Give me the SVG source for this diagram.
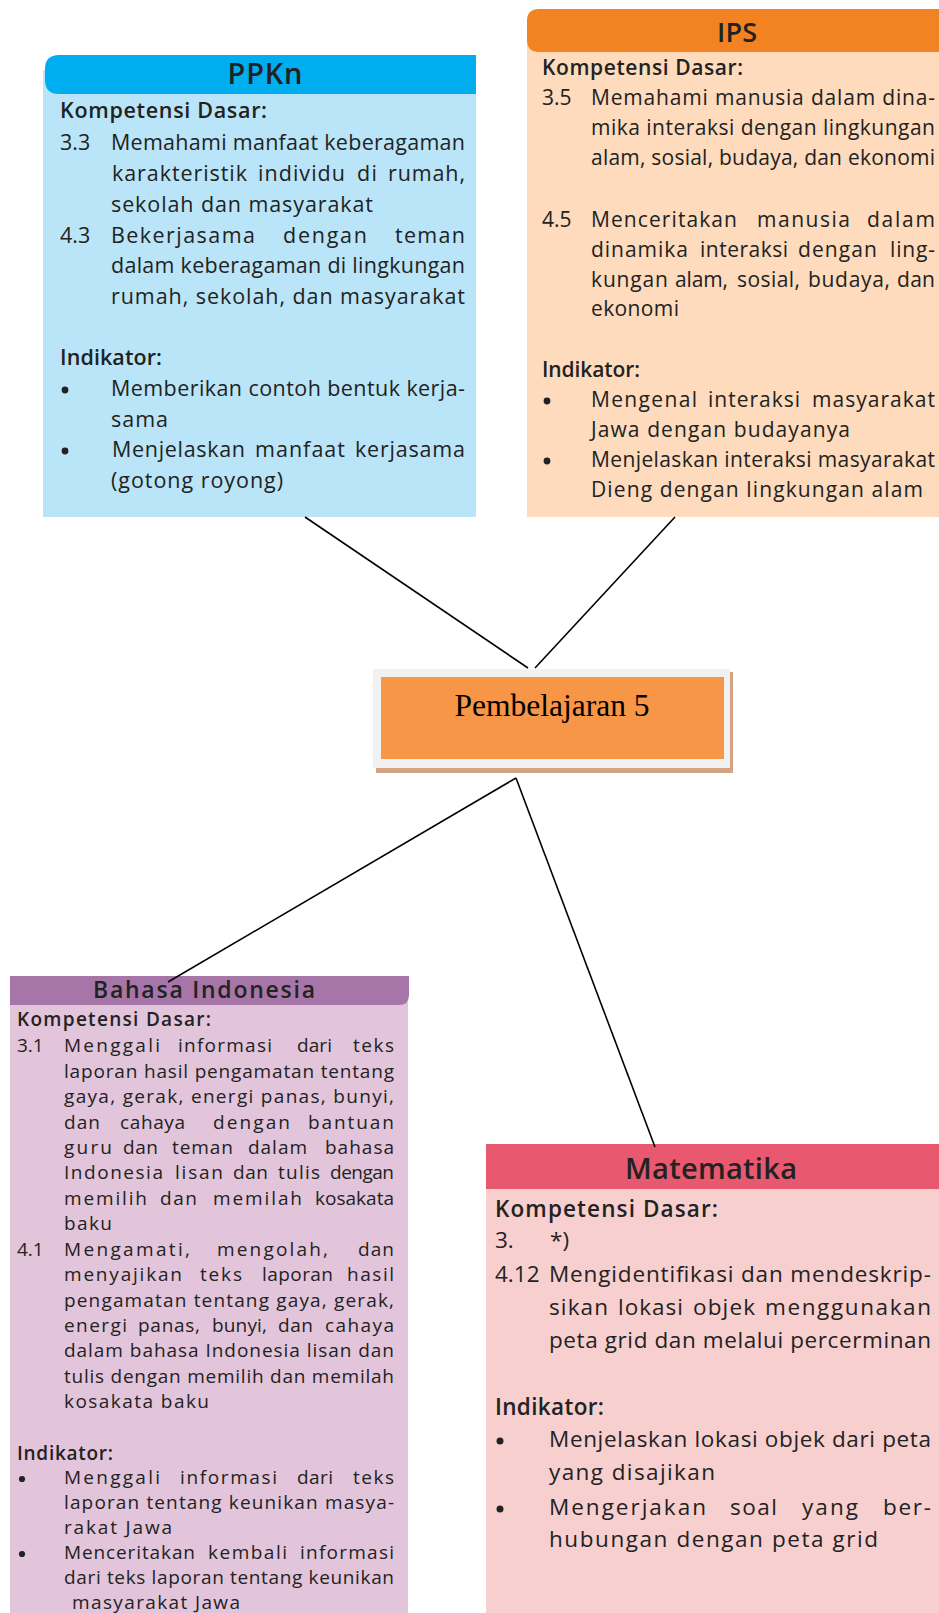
<svg xmlns="http://www.w3.org/2000/svg" width="939" height="1613" viewBox="0 0 939 1613">
<style>
text{font-family:"Open Sans","Noto Sans",sans-serif;fill:#222;font-weight:500}
.b{font-weight:600}
.s21{font-size:21.5px}
.s20{font-size:21px}
.s22{font-size:22.5px}
.s18{font-size:19px}
.title{font-weight:600;text-anchor:middle}
.dot{fill:#222}
.conn line{stroke:#000;stroke-width:1.6}
</style>
<rect width="939" height="1613" fill="#fff"/>

<g id="ppkn">
<rect x="43" y="70" width="433" height="447" fill="#BAE5F8"/>
<path d="M59 55 H476 V94 H59 Q45 94 45 80 V69 Q45 55 59 55 Z" fill="#00AEEF"/>
<text class="title" x="265" y="84" font-size="29" textLength="75">PPKn</text>
<g class="s21">
<text class="b" x="60" y="118" textLength="207">Kompetensi Dasar:</text>
<text x="60" y="150">3.3</text>
<text x="111" y="150" textLength="354">Memahami manfaat keberagaman</text>
<text x="112" y="181" textLength="135">karakteristik</text>
<text x="258" y="181" textLength="87">individu</text>
<text x="357" y="181" textLength="20">di</text>
<text x="388" y="181" textLength="77">rumah,</text>
<text x="111" y="212" textLength="262">sekolah dan masyarakat</text>
<text x="60" y="243">4.3</text>
<text x="111" y="243" textLength="144">Bekerjasama</text>
<text x="283" y="243" textLength="84">dengan</text>
<text x="395" y="243" textLength="70">teman</text>
<text x="111" y="273" textLength="354">dalam keberagaman di lingkungan</text>
<text x="111" y="304" textLength="354">rumah, sekolah, dan masyarakat</text>
<text class="b" x="60" y="365" textLength="102">Indikator:</text>
<circle class="dot" cx="65" cy="390" r="3.4"/>
<text x="111" y="396" textLength="354">Memberikan contoh bentuk kerja-</text>
<text x="111" y="427" textLength="57">sama</text>
<circle class="dot" cx="65" cy="451" r="3.4"/>
<text x="112" y="457" textLength="133">Menjelaskan</text>
<text x="255" y="457" textLength="90">manfaat</text>
<text x="355" y="457" textLength="110">kerjasama</text>
<text x="111" y="488" textLength="172">(gotong royong)</text>
</g>
</g>

<g id="ips">
<rect x="527" y="30" width="412" height="487" fill="#FDDBBC"/>
<path d="M539 9 H939 V52 H539 Q527 52 527 40 V21 Q527 9 539 9 Z" fill="#F28222"/>
<text class="title" x="737" y="42" font-size="27" textLength="40">IPS</text>
<g class="s20">
<text class="b" x="542" y="75" textLength="201">Kompetensi Dasar:</text>
<text x="542" y="105">3.5</text>
<text x="591" y="105" textLength="344">Memahami manusia dalam dina-</text>
<text x="591" y="135" textLength="344">mika interaksi dengan lingkungan</text>
<text x="591" y="165" textLength="344">alam, sosial, budaya, dan ekonomi</text>
<text x="542" y="227">4.5</text>
<text x="591" y="227" textLength="146">Menceritakan</text>
<text x="757" y="227" textLength="93">manusia</text>
<text x="867" y="227" textLength="68">dalam</text>
<text x="591" y="257" textLength="97">dinamika</text>
<text x="700" y="257" textLength="88">interaksi</text>
<text x="798" y="257" textLength="79">dengan</text>
<text x="890" y="257" textLength="45">ling-</text>
<text x="591" y="287" textLength="77">kungan</text>
<text x="675" y="287" textLength="53">alam,</text>
<text x="737" y="287" textLength="63">sosial,</text>
<text x="808" y="287" textLength="82">budaya,</text>
<text x="897" y="287" textLength="38">dan</text>
<text x="591" y="316" textLength="88">ekonomi</text>
<text class="b" x="542" y="377" textLength="98">Indikator:</text>
<circle class="dot" cx="547" cy="401" r="3.4"/>
<text x="591" y="407" textLength="106">Mengenal</text>
<text x="708" y="407" textLength="92">interaksi</text>
<text x="812" y="407" textLength="123">masyarakat</text>
<text x="591" y="437" textLength="259">Jawa dengan budayanya</text>
<circle class="dot" cx="547" cy="461" r="3.4"/>
<text x="591" y="467" textLength="344">Menjelaskan interaksi masyarakat</text>
<text x="591" y="497" textLength="332">Dieng dengan lingkungan alam</text>
</g>
</g>

<g id="pembelajaran5">
<rect x="376" y="672" width="357" height="101" fill="#D4A384"/>
<rect x="373" y="669" width="357" height="99" fill="#F1F1F1"/>
<rect x="381" y="677" width="343" height="82" fill="#F79646"/>
<text x="552" y="716" text-anchor="middle" style="font-family:'Liberation Serif','Times New Roman',serif;font-size:31.5px;font-weight:400;fill:#000">Pembelajaran 5</text>
</g>

<g id="bahasa-indonesia">
<rect x="10" y="990" width="398" height="623" fill="#E2C5DA"/>
<path d="M10 976 H409 V995 Q409 1005 399 1005 H10 Z" fill="#A676A8"/>
<text class="title" x="204" y="998" font-size="23" textLength="222">Bahasa Indonesia</text>
<g class="s18">
<text class="b" x="17" y="1026" textLength="194">Kompetensi Dasar:</text>
<text x="17" y="1052">3.1</text>
<text x="64" y="1052" textLength="96">Menggali</text>
<text x="178" y="1052" textLength="94">informasi</text>
<text x="297" y="1052" textLength="35">dari</text>
<text x="353" y="1052" textLength="41">teks</text>
<text x="64" y="1078" textLength="330">laporan hasil pengamatan tentang</text>
<text x="64" y="1103" textLength="330">gaya, gerak, energi panas, bunyi,</text>
<text x="64" y="1129" textLength="36">dan</text>
<text x="120" y="1129" textLength="65">cahaya</text>
<text x="213" y="1129" textLength="77">dengan</text>
<text x="308" y="1129" textLength="86">bantuan</text>
<text x="64" y="1154" textLength="48">guru</text>
<text x="123" y="1154" textLength="35">dan</text>
<text x="172" y="1154" textLength="61">teman</text>
<text x="248" y="1154" textLength="59">dalam</text>
<text x="325" y="1154" textLength="69">bahasa</text>
<text x="64" y="1179" textLength="99">Indonesia</text>
<text x="175" y="1179" textLength="48">lisan</text>
<text x="233" y="1179" textLength="35">dan</text>
<text x="278" y="1179" textLength="42">tulis</text>
<text x="330" y="1179" textLength="64">dengan</text>
<text x="64" y="1205" textLength="83">memilih</text>
<text x="160" y="1205" textLength="37">dan</text>
<text x="213" y="1205" textLength="89">memilah</text>
<text x="315" y="1205" textLength="79">kosakata</text>
<text x="64" y="1230" textLength="48">baku</text>
<text x="17" y="1256">4.1</text>
<text x="64" y="1256" textLength="126">Mengamati,</text>
<text x="217" y="1256" textLength="111">mengolah,</text>
<text x="358" y="1256" textLength="36">dan</text>
<text x="64" y="1281" textLength="118">menyajikan</text>
<text x="200" y="1281" textLength="42">teks</text>
<text x="262" y="1281" textLength="71">laporan</text>
<text x="347" y="1281" textLength="47">hasil</text>
<text x="64" y="1307" textLength="330">pengamatan tentang gaya, gerak,</text>
<text x="64" y="1332" textLength="63">energi</text>
<text x="138" y="1332" textLength="62">panas,</text>
<text x="212" y="1332" textLength="55">bunyi,</text>
<text x="278" y="1332" textLength="35">dan</text>
<text x="325" y="1332" textLength="69">cahaya</text>
<text x="64" y="1357" textLength="330">dalam bahasa Indonesia lisan dan</text>
<text x="64" y="1383" textLength="330">tulis dengan memilih dan memilah</text>
<text x="64" y="1408" textLength="145">kosakata baku</text>
<text class="b" x="17" y="1460" textLength="96">Indikator:</text>
<circle class="dot" cx="22" cy="1479" r="3.1"/>
<text x="64" y="1484" textLength="96">Menggali</text>
<text x="180" y="1484" textLength="97">informasi</text>
<text x="297" y="1484" textLength="36">dari</text>
<text x="353" y="1484" textLength="41">teks</text>
<text x="64" y="1509" textLength="330">laporan tentang keunikan masya-</text>
<text x="64" y="1534" textLength="108">rakat Jawa</text>
<circle class="dot" cx="22" cy="1554" r="3.1"/>
<text x="64" y="1559" textLength="131">Menceritakan</text>
<text x="208" y="1559" textLength="79">kembali</text>
<text x="300" y="1559" textLength="94">informasi</text>
<text x="64" y="1584" textLength="330">dari teks laporan tentang keunikan</text>
<text x="72" y="1609" textLength="168">masyarakat Jawa</text>
</g>
</g>

<g id="matematika">
<rect x="486" y="1189" width="453" height="424" fill="#F7CFCF"/>
<rect x="486" y="1144" width="453" height="45" fill="#E8586E"/>
<text class="title" x="711" y="1179" font-size="29" textLength="172">Matematika</text>
<g class="s22">
<text class="b" x="495" y="1217" textLength="223">Kompetensi Dasar:</text>
<text x="495" y="1248">3.</text>
<text x="550" y="1248">*)</text>
<text x="495" y="1282">4.12</text>
<text x="549" y="1282" textLength="382">Mengidentifikasi dan mendeskrip-</text>
<text x="549" y="1315" textLength="59">sikan</text>
<text x="618" y="1315" textLength="65">lokasi</text>
<text x="693" y="1315" textLength="62">objek</text>
<text x="765" y="1315" textLength="166">menggunakan</text>
<text x="549" y="1348" textLength="382">peta grid dan melalui percerminan</text>
<text class="b" x="495" y="1415" textLength="109">Indikator:</text>
<circle class="dot" cx="500" cy="1441" r="3.5"/>
<text x="549" y="1447" textLength="382">Menjelaskan lokasi objek dari peta</text>
<text x="549" y="1480" textLength="166">yang disajikan</text>
<circle class="dot" cx="500" cy="1509" r="3.5"/>
<text x="549" y="1515" textLength="157">Mengerjakan</text>
<text x="730" y="1515" textLength="47">soal</text>
<text x="802" y="1515" textLength="56">yang</text>
<text x="883" y="1515" textLength="48">ber-</text>
<text x="549" y="1547" textLength="329">hubungan dengan peta grid</text>
</g>
</g>

<g id="connectors" class="conn">
<line x1="305" y1="517" x2="528" y2="668"/>
<line x1="675" y1="517" x2="535" y2="668"/>
<line x1="516" y1="778" x2="168" y2="982"/>
<line x1="516" y1="778" x2="655" y2="1147"/>
</g>
</svg>
